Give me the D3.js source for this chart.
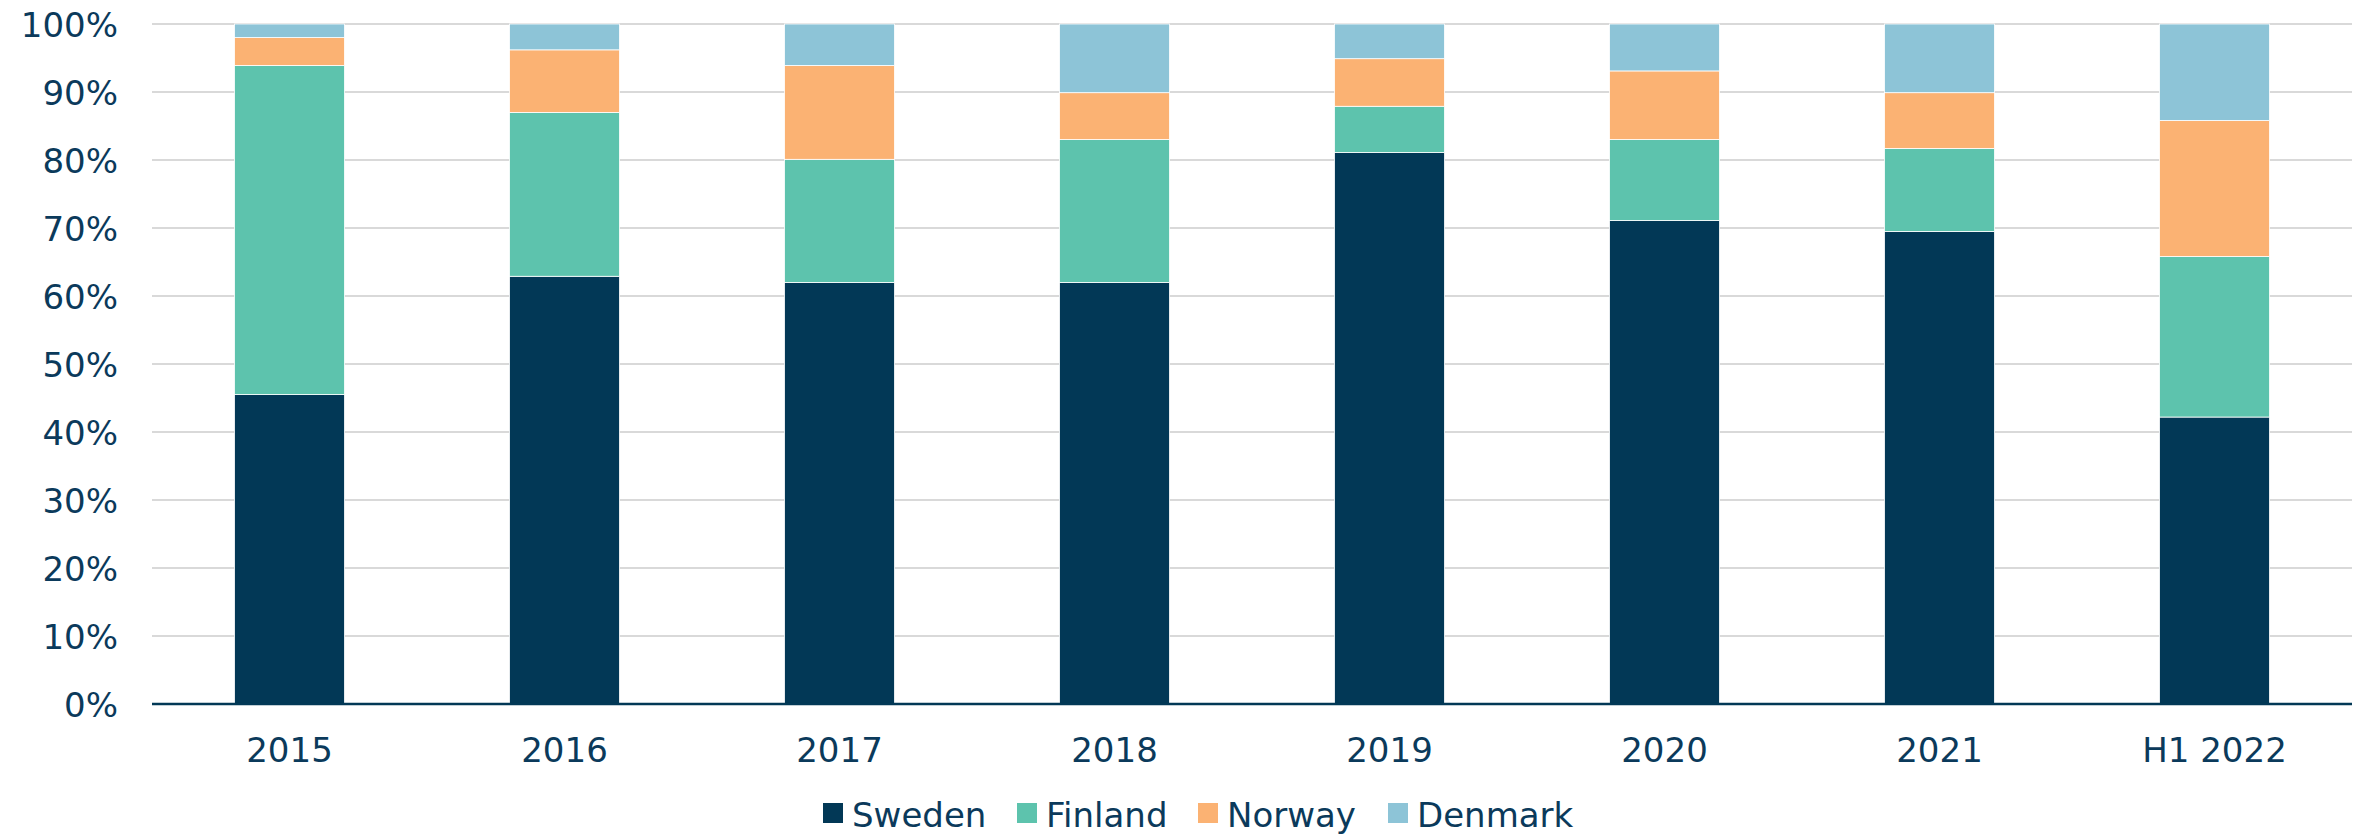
<!DOCTYPE html>
<html>
<head>
<meta charset="utf-8">
<script src="https://cdn.jsdelivr.net/npm/d3@7"></script>
<style>
  html, body { margin: 0; padding: 0; background: #fff; }
  #chart text { font-family: "DejaVu Sans", sans-serif; fill: #0b3a5b; }
</style>
</head>
<body>
<div id="chart"></div>
<script>
// Share of volume per country (percent)
const categories = ['2015', '2016', '2017', '2018', '2019', '2020', '2021', 'H1 2022'];
const sweden  = [45.5, 62.9, 62.0, 62.0, 81.1, 71.1, 69.5, 42.2];
const finland = [48.4, 24.1, 18.1, 21.0, 6.8, 11.9, 12.2, 23.6];
const norway  = [4.1, 9.2, 13.8, 6.9, 7.0, 10.1, 8.2, 20.0];
const denmark = [2.0, 3.8, 6.1, 10.1, 5.1, 6.9, 10.1, 14.2];
const seriesNames = ['Sweden', 'Finland', 'Norway', 'Denmark'];
const yTicks = [0, 10, 20, 30, 40, 50, 60, 70, 80, 90, 100];

const colors = {
    Sweden: '#023856',
    Finland: '#5dc3ad',
    Norway: '#fbb273',
    Denmark: '#8dc4d7'
};

const dimensions = {
    width: 2364,
    height: 834,
    left: 152,
    right: 2352,
    top: 24,
    bottom: 704
};

// build rows for the stack
const rows = categories.map((c, i) => ({
    category: c,
    Sweden: sweden[i],
    Finland: finland[i],
    Norway: norway[i],
    Denmark: denmark[i]
}));
const stacked = d3.stack().keys(seriesNames)(rows);

// Scales
const xScale = d3.scaleBand()
    .domain(categories)
    .range([dimensions.left, dimensions.right])
    .paddingInner(0.6)
    .paddingOuter(0.3);

const yScale = d3.scaleLinear()
    .domain([0, 100])
    .range([dimensions.bottom, dimensions.top]);

const svg = d3.select('#chart')
    .append('svg')
    .attr('width', dimensions.width)
    .attr('height', dimensions.height);

// Gridlines
svg.append('g')
    .selectAll('line')
    .data(yTicks.filter(d => d > 0))
    .join('line')
    .attr('x1', dimensions.left)
    .attr('x2', dimensions.right)
    .attr('y1', d => yScale(d))
    .attr('y2', d => yScale(d))
    .attr('stroke', '#d9d9d9')
    .attr('stroke-width', 2);

// Bars
svg.append('g')
    .selectAll('g')
    .data(stacked)
    .join('g')
    .attr('fill', d => colors[d.key])
    .selectAll('rect')
    .data(d => d)
    .join('rect')
    .attr('x', d => xScale(d.data.category))
    .attr('y', d => yScale(d[1]))
    .attr('width', xScale.bandwidth())
    .attr('height', d => yScale(d[0]) - yScale(d[1]))
    .attr('stroke', '#ffffff')
    .attr('stroke-width', 0.8);

// Y axis labels
const yAxis = d3.axisLeft(yScale)
    .tickValues(yTicks)
    .tickFormat(d => d + '%')
    .tickSize(0)
    .tickPadding(34);
const yAxisGroup = svg.append('g')
    .attr('transform', `translate(${dimensions.left}, 0)`)
    .call(yAxis);
yAxisGroup.select('.domain').remove();
yAxisGroup.selectAll('text')
    .style('font-size', '34px')
    .attr('dy', '0.36em');

// X axis
const xAxis = d3.axisBottom(xScale).tickSize(0).tickPadding(34);
const xAxisGroup = svg.append('g')
    .attr('transform', `translate(0, ${dimensions.bottom})`)
    .call(xAxis);
xAxisGroup.select('.domain')
    .attr('d', `M${dimensions.left},0H${dimensions.right}`)
    .attr('stroke', '#023856')
    .attr('stroke-width', 2.5);
xAxisGroup.selectAll('text')
    .style('font-size', '34px')
    .attr('dy', '0.71em');

// Legend
const legendX = [823, 1017, 1198, 1388];
const legend = svg.append('g')
    .selectAll('g')
    .data(seriesNames)
    .join('g')
    .attr('transform', (d, i) => `translate(${legendX[i]}, 803)`);
legend.append('rect')
    .attr('width', 20)
    .attr('height', 20)
    .attr('fill', d => colors[d]);
legend.append('text')
    .attr('x', 29)
    .attr('y', 24)
    .style('font-size', '34px')
    .text(d => d);
</script>
</body>
</html>
